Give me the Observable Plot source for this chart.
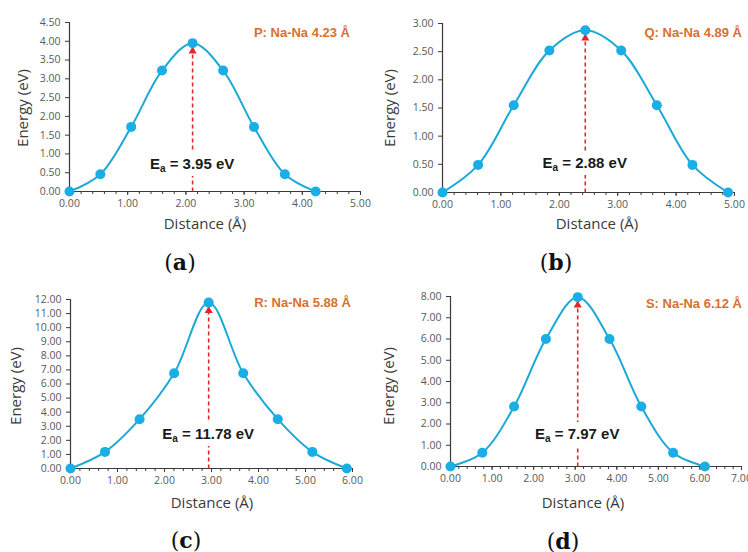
<!DOCTYPE html>
<html><head><meta charset="utf-8">
<script src="https://cdn.jsdelivr.net/npm/d3@7"></script>
<script src="https://cdn.jsdelivr.net/npm/@observablehq/plot@0.6"></script>
<style>
body{margin:0;background:#fff;}
#wrap{position:relative;width:748px;height:552px;overflow:hidden;background:#fff;}
#wrap svg{position:absolute;}
.lbl{position:absolute;white-space:nowrap;transform:translate(-50%,-50%);}
.axt{font-family:"Open Sans",sans-serif;font-size:15px;line-height:1;color:#3a3a3a;}
.rot{transform:translate(-50%,-50%) rotate(-90deg);}
.ttl{position:absolute;white-space:nowrap;transform:translate(-100%,-50%);font-family:"Liberation Sans",Arial,sans-serif;font-weight:bold;font-size:13px;color:#d8702f;}
.ea{font-family:"Liberation Sans",Arial,sans-serif;font-weight:bold;font-size:15px;color:#1a1a1a;background:#fff;padding:4px 3px;line-height:16px;}
.ea sub{font-size:10px;vertical-align:-3px;line-height:0;}
.pl{font-family:"DejaVu Serif",serif;font-size:22px;line-height:1;color:#111;}
.pl b{font-weight:bold;}
</style>
</head><body>
<div id="wrap"></div>
<script>
// ---- data ----
const panelLetters = ["a", "b", "c", "d"];
const titles = ["P: Na-Na 4.23 Å", "Q: Na-Na 4.89 Å", "R: Na-Na 5.88 Å", "S: Na-Na 6.12 Å"];
const eaValues = ["3.95", "2.88", "11.78", "7.97"];
const distA = [0, 0.53, 1.06, 1.59, 2.115, 2.64, 3.17, 3.70, 4.23];
const energyA = [0, 0.46, 1.72, 3.22, 3.95, 3.22, 1.72, 0.46, 0];
const distB = [0, 0.61, 1.22, 1.83, 2.445, 3.06, 3.67, 4.28, 4.89];
const energyB = [0, 0.49, 1.55, 2.52, 2.88, 2.52, 1.55, 0.49, 0];
const distC = [0, 0.735, 1.47, 2.205, 2.94, 3.675, 4.41, 5.145, 5.88];
const energyC = [0, 1.18, 3.50, 6.76, 11.78, 6.76, 3.50, 1.18, 0];
const distD = [0, 0.765, 1.53, 2.295, 3.06, 3.825, 4.59, 5.355, 6.12];
const energyD = [0, 0.65, 2.82, 6.00, 7.97, 6.00, 2.82, 0.65, 0];
const distances = [distA, distB, distC, distD];
const energies = [energyA, energyB, energyC, energyD];
const xMax = [5, 5, 6, 7];
const yMax = [4.5, 3, 12, 8];
const yStep = [0.5, 0.5, 1, 1];
const xLabel = "Distance (Å)";
const yLabel = "Energy (eV)";

// ---- layout ----
const layout = [
  {left: 0,   top: 0,   w: 374, h: 240, ml: 69, mr: 14, mt: 22, mb: 49,
   yl: [22, 108], xl: [205, 223], tt: [350, 32], pl: [180, 262], eo: 27},
  {left: 374, top: 0,   w: 374, h: 240, ml: 68, mr: 14, mt: 23, mb: 48,
   yl: [389, 108], xl: [597, 223], tt: [742, 32], pl: [556, 262], eo: 29},
  {left: 0,   top: 280, w: 374, h: 230, ml: 70, mr: 22, mt: 19, mb: 42,
   yl: [15, 386], xl: [212, 502], tt: [351, 302], pl: [186, 540], eo: 34},
  {left: 374, top: 280, w: 374, h: 230, ml: 76, mr: 7, mt: 16, mb: 44,
   yl: [388, 386], xl: [583, 502], tt: [742, 303], pl: [563, 541], eo: 32}
];

const wrap = document.getElementById("wrap");
function addDiv(cls, html, x, y) {
  const d = document.createElement("div");
  d.className = cls;
  d.innerHTML = html;
  d.style.left = x + "px";
  d.style.top = y + "px";
  wrap.appendChild(d);
  return d;
}

const fmt = d3.format(".2f");
panelLetters.forEach((letter, i) => {
  const L = layout[i];
  const data = distances[i].map((d, j) => ({x: d, y: energies[i][j], y0: 0}));
  const peak = data[d3.maxIndex(energies[i])];
  const minor = d3.range(0, Math.round(xMax[i] * 5) + 1).map(k => k / 5);
  const major = d3.range(0, xMax[i] + 1);
  const yt = d3.range(0, Math.round(yMax[i] / yStep[i]) + 1).map(k => k * yStep[i]);
  const plot = Plot.plot({
    width: L.w, height: L.h,
    marginLeft: L.ml, marginRight: L.mr, marginTop: L.mt, marginBottom: L.mb,
    style: {fontFamily: "'Open Sans', sans-serif", fontSize: "10.5px", color: "#595959", background: "transparent", overflow: "visible"},
    x: {domain: [0, xMax[i]]},
    y: {domain: [0, yMax[i]]},
    marks: [
      Plot.ruleY([0], {stroke: "#3a3a3a", strokeWidth: 1.2}),
      Plot.ruleX([0], {stroke: "#3a3a3a", strokeWidth: 1.2}),
      Plot.axisX(minor, {tickSize: 3, tickFormat: () => "", label: null, stroke: "#3a3a3a"}),
      Plot.axisX(major, {tickSize: 4, tickPadding: 4, tickFormat: fmt, label: null, stroke: "#3a3a3a", fill: "#595959"}),
      Plot.axisY(yt, {tickSize: 4, tickPadding: 5, tickFormat: fmt, label: null, stroke: "#3a3a3a", fill: "#595959"}),
      Plot.link([peak], {x1: "x", y1: "y0", x2: "x", y2: "y", stroke: "#e3262b", strokeWidth: 1.6, strokeDasharray: "4,3"}),
      Plot.line(data, {x: "x", y: "y", curve: "catmull-rom", stroke: "#1ca9d8", strokeWidth: 2}),
      Plot.dot([peak], {x: "x", y: "y", symbol: "triangle", fill: "#e3262b", r: 3, dy: 8}),
      Plot.dot(data, {x: "x", y: "y", r: 5, fill: "#1aaee6"})
    ]
  });
  plot.style.left = L.left + "px";
  plot.style.top = L.top + "px";
  wrap.appendChild(plot);

  const px = L.left + plot.scale("x").apply(peak.x);
  const py = L.top + plot.scale("y").apply(0) - L.eo;
  addDiv("lbl ea", "E<sub>a</sub> = " + eaValues[i] + " eV", px, py);
  addDiv("lbl axt rot", yLabel, L.yl[0], L.yl[1]);
  addDiv("lbl axt", xLabel, L.xl[0], L.xl[1]);
  addDiv("ttl", titles[i], L.tt[0], L.tt[1]);
  addDiv("lbl pl", "(<b>" + letter + "</b>)", L.pl[0], L.pl[1]);
});
</script>
</body></html>
